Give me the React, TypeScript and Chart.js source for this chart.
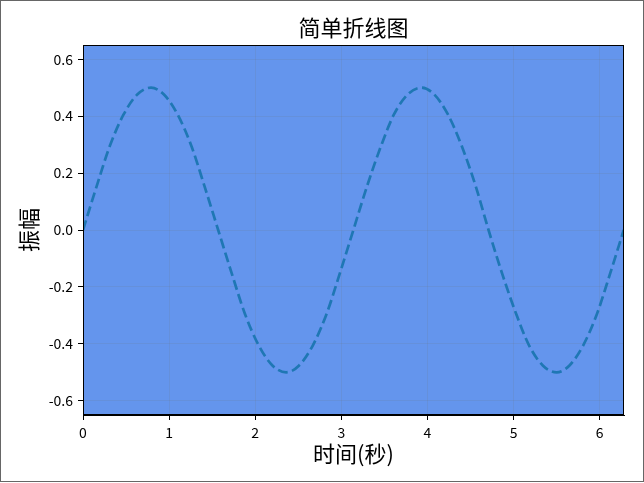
import { useEffect, useRef } from 'react'
import { Chart, registerables } from 'chart.js'

Chart.register(...registerables)

const FONT = '"Noto Sans CJK SC", "Noto Sans", sans-serif'

const TITLE = '简单折线图'
const X_LABEL = '时间(秒)'
const Y_LABEL = '振幅'

// time samples (s)
const times = [
  0, 0.16, 0.31, 0.47, 0.63, 0.79, 0.94, 1.10, 1.26, 1.41,
  1.57, 1.73, 1.88, 2.04, 2.20, 2.36, 2.51, 2.67, 2.83, 2.98,
  3.14, 3.30, 3.46, 3.61, 3.77, 3.93, 4.08, 4.24, 4.40, 4.56,
  4.71, 4.87, 5.03, 5.18, 5.34, 5.50, 5.65, 5.81, 5.97, 6.12, 6.28,
]

// amplitude
const amplitude = [
  0, 0.155, 0.294, 0.405, 0.476, 0.5, 0.476, 0.405, 0.294, 0.155,
  0, -0.155, -0.294, -0.405, -0.476, -0.5, -0.476, -0.405, -0.294, -0.155,
  0, 0.155, 0.294, 0.405, 0.476, 0.5, 0.476, 0.405, 0.294, 0.155,
  0, -0.155, -0.294, -0.405, -0.476, -0.5, -0.476, -0.405, -0.294, -0.155, 0,
]

const X_MIN = 0
const X_MAX = 6.2832
const Y_MIN = -0.65
const Y_MAX = 0.65

const GRID = 'rgba(110,110,110,0.14)'

const framePlugin = {
  id: 'frame',
  beforeDraw(chart: Chart) {
    const { ctx, chartArea: a } = chart
    ctx.save()
    ctx.fillStyle = '#6495ED'
    ctx.fillRect(a.left, a.top, a.right - a.left, a.bottom - a.top)
    ctx.restore()
  },
  afterDraw(chart: Chart) {
    const { ctx, chartArea: a, width } = chart
    ctx.save()
    ctx.strokeStyle = '#000'
    ctx.lineWidth = 1
    ctx.strokeRect(a.left + 0.5, a.top + 0.5, a.right - a.left - 1, a.bottom - a.top - 1)
    ctx.strokeStyle = '#666'
    ctx.strokeRect(0.5, 0.5, width - 1, chart.height - 2)
    ctx.fillStyle = '#000'
    ctx.font = `22px ${FONT}`
    ctx.textAlign = 'center'
    ctx.textBaseline = 'middle'
    ctx.fillText(TITLE, (a.left + a.right) / 2, 28)
    ctx.restore()
  },
}

export default function App() {
  const ref = useRef<HTMLCanvasElement>(null)

  useEffect(() => {
    if (!ref.current) return
    Chart.defaults.font.family = FONT
    const chart = new Chart(ref.current, {
      type: 'line',
      data: {
        datasets: [{
          data: times.map((t, i) => ({ x: t, y: amplitude[i] })),
          borderColor: '#1f77b4',
          borderWidth: 2.7,
          borderDash: [10, 4.5],
          pointRadius: 0,
          fill: false,
          cubicInterpolationMode: 'monotone',
        }],
      },
      options: {
        responsive: true,
        maintainAspectRatio: false,
        animation: false,
        layout: { padding: { top: 45, right: 20, left: 0, bottom: 0 } },
        plugins: { legend: { display: false }, tooltip: { enabled: false } },
        scales: {
          x: {
            type: 'linear',
            min: X_MIN,
            max: X_MAX,
            afterFit: (s: any) => { s.height = 68 },
            ticks: {
              stepSize: 1,
              includeBounds: false,
              color: '#000',
              padding: 4,
              maxRotation: 0,
              font: { size: 14 },
              callback: (v: any) => String(v),
            },
            grid: { color: GRID, tickColor: '#000', tickLength: 5 },
            border: { display: true, color: '#000', width: 1 },
            title: {
              display: true,
              text: X_LABEL,
              color: '#000',
              font: { size: 22 },
              padding: { top: 0, bottom: 16 },
            },
          },
          y: {
            type: 'linear',
            min: Y_MIN,
            max: Y_MAX,
            afterFit: (s: any) => { s.width = 83 },
            ticks: {
              stepSize: 0.2,
              includeBounds: false,
              color: '#000',
              padding: 5,
              font: { size: 14 },
              callback: (v: any) => Number(v).toFixed(1),
            },
            grid: { color: GRID, tickColor: '#000', tickLength: 5 },
            border: { display: true, color: '#000', width: 1 },
            title: {
              display: true,
              text: Y_LABEL,
              color: '#000',
              font: { size: 22 },
              padding: { top: 15, bottom: 0 },
            },
          },
        },
      },
      plugins: [framePlugin],
    })
    return () => chart.destroy()
  }, [])

  return (
    <div style={{ position: 'fixed', left: 0, top: 0, width: 644, height: 483, background: '#fff' }}>
      <canvas ref={ref} />
    </div>
  )
}
